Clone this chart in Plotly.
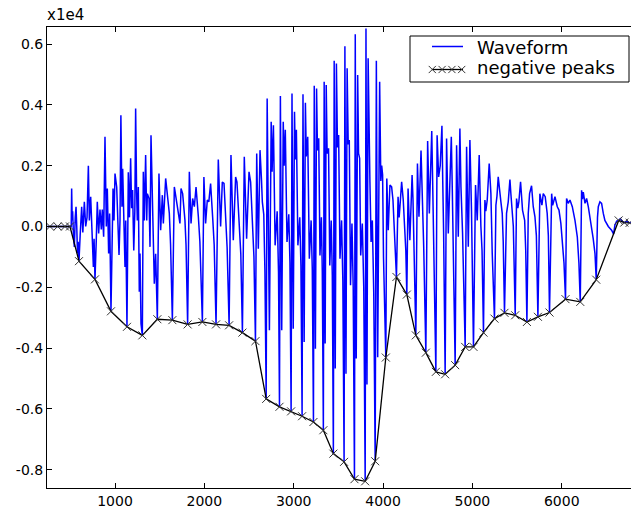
import plotly.graph_objects as go

# Raw sample amplitudes; the y axis shows them in units of 1e4.
SCALE = 1e4

# Waveform: sample index and amplitude at each vertex of the trace.
WAVE_X = [
    239, 272, 300, 358, 400, 440, 470, 496, 510,
    515, 521, 526, 535, 545, 555, 564, 572, 580, 588, 597,
    610, 627, 640, 657, 672, 687, 702, 713, 728, 743, 758, 766, 776,
    790, 802, 817, 832, 847, 858, 873, 888, 903, 914, 929, 940, 955,
    965, 978, 989, 1000, 1019, 1034, 1045, 1056, 1066, 1078, 1086, 1101, 1112, 1120, 1134,
    1149, 1162, 1175, 1186, 1197, 1210, 1222, 1231, 1242, 1250, 1261, 1272, 1280, 1291, 1306,
    1317, 1328, 1343, 1355, 1362, 1381, 1392, 1403, 1418, 1429, 1440, 1455, 1474,
    1492, 1511, 1530, 1541, 1567, 1589, 1608, 1622, 1642,
    1664, 1690, 1709, 1727, 1739, 1757, 1783, 1795, 1813,
    1832, 1851, 1869, 1888, 1907, 1933, 1950, 1978,
    1995, 2014, 2033, 2050, 2070, 2095, 2110, 2131,
    2156, 2182, 2201, 2220, 2240, 2255, 2277,
    2298, 2324, 2350, 2365, 2388, 2408, 2426,
    2447, 2473, 2500, 2518, 2540, 2555, 2572,
    2586, 2604, 2623, 2640, 2649, 2665, 2678, 2692,
    2703, 2728, 2748, 2758, 2773, 2792, 2815, 2830, 2841,
    2851, 2866, 2883, 2893, 2906, 2925, 2945, 2958, 2971,
    2981, 2995, 3009, 3018, 3030, 3047, 3068, 3081, 3094,
    3104, 3117, 3131, 3141, 3157, 3175, 3195, 3208, 3221,
    3230, 3243, 3256, 3266, 3280, 3294, 3310, 3320, 3332,
    3341, 3352, 3364, 3374, 3390, 3404, 3420, 3432, 3444,
    3453, 3465, 3478, 3490, 3503, 3518, 3536, 3550, 3564,
    3573, 3585, 3598, 3610, 3622, 3636, 3652, 3666, 3680,
    3689, 3700, 3716, 3726, 3738, 3750, 3768, 3784, 3800,
    3809, 3820, 3833, 3843, 3853, 3866, 3880, 3896, 3912,
    3925, 3940, 3962, 3975, 3985, 3995, 4005, 4018, 4031,
    4042, 4058, 4077, 4096, 4111, 4125, 4138, 4150,
    4168, 4180, 4189, 4208, 4226, 4245, 4255, 4266,
    4280, 4300, 4325, 4335, 4349, 4367,
    4385, 4402, 4425, 4440, 4455, 4479,
    4499, 4518, 4545, 4555, 4568, 4591,
    4605, 4622, 4640, 4659, 4668, 4678, 4695,
    4711, 4730, 4745, 4764, 4775, 4785, 4807,
    4823, 4842, 4860, 4872, 4890, 4919,
    4935, 4954, 4972, 4990, 5012,
    5035, 5054, 5076, 5095, 5108, 5124,
    5140, 5150, 5166, 5188, 5207, 5222, 5247,
    5263, 5275, 5289, 5305, 5319, 5334, 5345, 5359,
    5382, 5401, 5420, 5430, 5442, 5458, 5479,
    5494, 5508, 5520, 5539, 5561, 5585, 5597, 5610,
    5625, 5640, 5662, 5681, 5700, 5716, 5733,
    5755, 5778, 5793, 5815, 5837, 5850, 5863,
    5887, 5898, 5905, 5924, 5950, 5969, 5990, 6010, 6025, 6042,
    6054, 6073, 6092, 6118, 6148, 6174, 6192, 6207,
    6222, 6232, 6241, 6260, 6278, 6297, 6316, 6334, 6352, 6372, 6386,
    6400, 6409, 6427, 6446, 6465, 6483, 6521, 6558, 6580, 6595, 6615,
    6637, 6655, 6675, 6700, 6726, 6745, 6760, 6774,
]
WAVE_Y = [
    0, 0, 10, 0, -10, 0, 5, 0, 0,
    1250, 200, 500, -300, -670, 300, 650, 0, -890, -500, -1140,
    -300, 650, -200, 810, 0, 300, 2000, 200, 980, -230, -1330, -400, -1740,
    -500, 810, -230, 560, -100, 560, -340, 2950, 0, 1250, -890, 430, -2790,
    -1500, 1250, 200, 1740, 1300, 0, -940, 200, 3660, 650, 1900, 0, -1330, 200, -3300,
    1780, 300, 2240, 600, 1200, -790, 500, 3880, 1100, 200, 1300, -2150, -890, -3200, -3580,
    1800, 200, 2350, 200, 1080, 920, -670, 3000, 760, -670, -1880, -900, -3050,
    1740, -120, 1030, 100, 1580, 810, 430, -600, -3080,
    1300, 760, 490, 100, 1250, 1080, 200, -600, -3220,
    1800, 100, 920, 650, 1300, 320, -500, -3140,
    1630, 100, 870, 810, 1410, 200, -600, -3220,
    2200, 0, 1460, 1420, 200, -700, -3250,
    2350, -450, 1630, 1460, 0, -900, -3490,
    2290, -400, 1800, 1460, 0, -1000, -3770,
    2400, -730, 2510, 1500, 810, 400, -1500, -5670,
    4210, -3410, 3440, 1800, 3330, -620, 500, -1500, -5930,
    4290, -3410, 3440, 2000, 3180, -510, 400, -1200, -6080,
    4370, -3360, 3770, 2200, 3180, -620, 300, -1300, -6240,
    4350, -3800, 4070, 2300, 2950, -1060, 200, -1400, -6430,
    4630, -4020, 4540, 2500, 2900, -950, 300, -1500, -6700,
    4760, -3850, 4650, 2400, 2570, -1280, 200, -1600, -7470,
    5450, -4670, 5360, 2600, 3010, -1060, 200, -1800, -7740,
    5930, -4840, 5200, 2700, 2840, -1930, 100, -2000, -8310,
    6320, -4340, 4980, 2400, 2240, -950, 100, -2000, -8380,
    6510, -5200, 5530, 2800, 1470, -510, 200, -2200, -7720,
    5450, -4300, 4760, 1500, 2000, 1700, -1000, -3200, -4310,
    1580, -120, 1360, 1300, 870, 0, -800, -1660,
    980, 300, 650, 1470, 870, 0, -800, -2240,
    1250, -450, 1690, 900, -790, -3580,
    2070, 320, 2500, 1200, -670, -4150,
    2810, 430, 3140, 1500, -790, -4780,
    3000, 1630, 2000, 3310, 1500, -230, -4860,
    2890, -230, 1500, 2950, 1200, -230, -4560,
    2670, -340, 3220, 1300, -230, -3960,
    2620, -670, 2840, 500, -3960,
    1360, 200, 2350, 0, -800, -3490,
    870, 500, 870, 2070, 1080, -890, -3030,
    700, 1000, 1630, 1100, 810, 430, -500, -2840,
    430, 810, 1540, 1100, 430, 0, -2920,
    920, 600, 810, 1470, 540, 200, -800, -3140,
    430, 1080, 1340, 650, 320, -300, -2970,
    1080, 700, 1080, 980, 430, -300, -2830,
    1080, 700, 810, 980, 650, 540, 100, -600, -1200, -2390,
    920, 760, 870, 650, 200, -340, -1200, -2480,
    1190, 900, 1130, 760, 920, 650, 300, 0, -400, -890, -1750,
    300, 650, 810, 760, 430, 200, 0, -120, -250, 50, 180,
    200, 260, 180, 130, 170, 140, 120, 130,
]

# Detected negative peaks (one per pitch period).
NEG_X = [
    272, 358, 440, 496, 597, 776, 955, 1134, 1306, 1474, 1642, 1813, 1978,
    2131, 2277, 2426, 2572, 2692, 2841, 2971, 3094, 3221, 3332, 3444, 3564,
    3680, 3800, 3912, 4031, 4150, 4266, 4367, 4479, 4591, 4695, 4807, 4919,
    5012, 5124, 5247, 5359, 5479, 5610, 5733, 5863, 6042, 6207, 6386, 6637,
    6700, 6760,
]
NEG_Y = [
    0, 0, 0, 0, -1140, -1740, -2790, -3300, -3580, -3050, -3080, -3220, -3140,
    -3220, -3250, -3490, -3770, -5670, -5930, -6080, -6240, -6430, -6700, -7470, -7740,
    -8310, -8380, -7720, -4310, -1660, -2240, -3580, -4150, -4780, -4860, -4560, -3960,
    -3960, -3490, -3030, -2840, -2920, -3140, -2970, -2830, -2390, -2480, -1750, 200,
    130, 120,
]

X_TICKS = [1000, 2000, 3000, 4000, 5000, 6000]
Y_TICKS = [-0.8, -0.6, -0.4, -0.2, 0.0, 0.2, 0.4, 0.6]
Y_TICK_TEXT = ["-0.8", "-0.6", "-0.4", "-0.2", "0.0", "0.2", "0.4", "0.6"]
LEGEND_LABELS = ["Waveform", "negative peaks"]

FONT = "DejaVu Sans"
W, H = 631, 508
ML, MR, MT, MB = 47, 0, 27, 20
PW, PH = W - ML - MR, H - MT - MB


def px(x):
    return (x - ML) / PW


def py(y):
    return (H - MB - y) / PH


fig = go.Figure()
fig.add_trace(go.Scatter(
    x=WAVE_X, y=[v / SCALE for v in WAVE_Y], mode="lines",
    line=dict(color="#0000ff", width=1.5), showlegend=False,
))
fig.add_trace(go.Scatter(
    x=NEG_X, y=[v / SCALE for v in NEG_Y], mode="lines+markers",
    line=dict(color="black", width=1.3),
    marker=dict(symbol="x-thin", size=8, line=dict(color="#333333", width=1)),
    showlegend=False,
))

# Hand-drawn legend box in the upper right corner.
shapes = [
    dict(type="rect", xref="paper", yref="paper",
         x0=px(410), x1=px(629), y0=py(82), y1=py(36),
         line=dict(color="black", width=1), fillcolor="white", layer="above"),
    dict(type="line", xref="paper", yref="paper",
         x0=px(432), x1=px(463), y0=py(46.5), y1=py(46.5),
         line=dict(color="#0000ff", width=1.5), layer="above"),
    dict(type="line", xref="paper", yref="paper",
         x0=px(432), x1=px(463), y0=py(69.5), y1=py(69.5),
         line=dict(color="black", width=1.3), layer="above"),
]
for cx in (432.3, 442.1, 451.9, 461.7):
    h = 3.6
    path = (f"M{px(cx - h)},{py(69.5 - h)} L{px(cx + h)},{py(69.5 + h)} "
            f"M{px(cx - h)},{py(69.5 + h)} L{px(cx + h)},{py(69.5 - h)}")
    shapes.append(dict(type="path", xref="paper", yref="paper", path=path,
                       line=dict(color="#333333", width=1), layer="above"))

annotations = [
    dict(text="x1e4", xref="paper", yref="paper", x=0, y=1,
         xanchor="left", yanchor="bottom", showarrow=False,
         font=dict(family=FONT, size=15, color="black"), xshift=-2, yshift=1),
]
for label, ypos in zip(LEGEND_LABELS, (47.5, 68.0)):
    annotations.append(dict(
        text=label, xref="paper", yref="paper", x=px(475), y=py(ypos),
        xanchor="left", yanchor="middle", showarrow=False,
        font=dict(family=FONT, size=18, color="black"),
    ))

axis_common = dict(
    showgrid=False, zeroline=False, showline=True, linecolor="black",
    linewidth=1, ticks="inside", ticklen=5, tickcolor="black",
    tickfont=dict(family=FONT, size=14, color="black"),
)

fig.update_layout(
    width=W, height=H,
    margin=dict(l=ML, r=MR, t=MT, b=MB),
    paper_bgcolor="white", plot_bgcolor="white",
    shapes=shapes, annotations=annotations,
    xaxis=dict(range=[239, 6775], tickvals=X_TICKS,
               ticktext=[str(t) for t in X_TICKS], mirror="ticks",
               **axis_common),
    yaxis=dict(range=[-0.860, 0.656], tickvals=Y_TICKS,
               ticktext=Y_TICK_TEXT, mirror=False, **axis_common),
)

fig.write_html("out.html")
